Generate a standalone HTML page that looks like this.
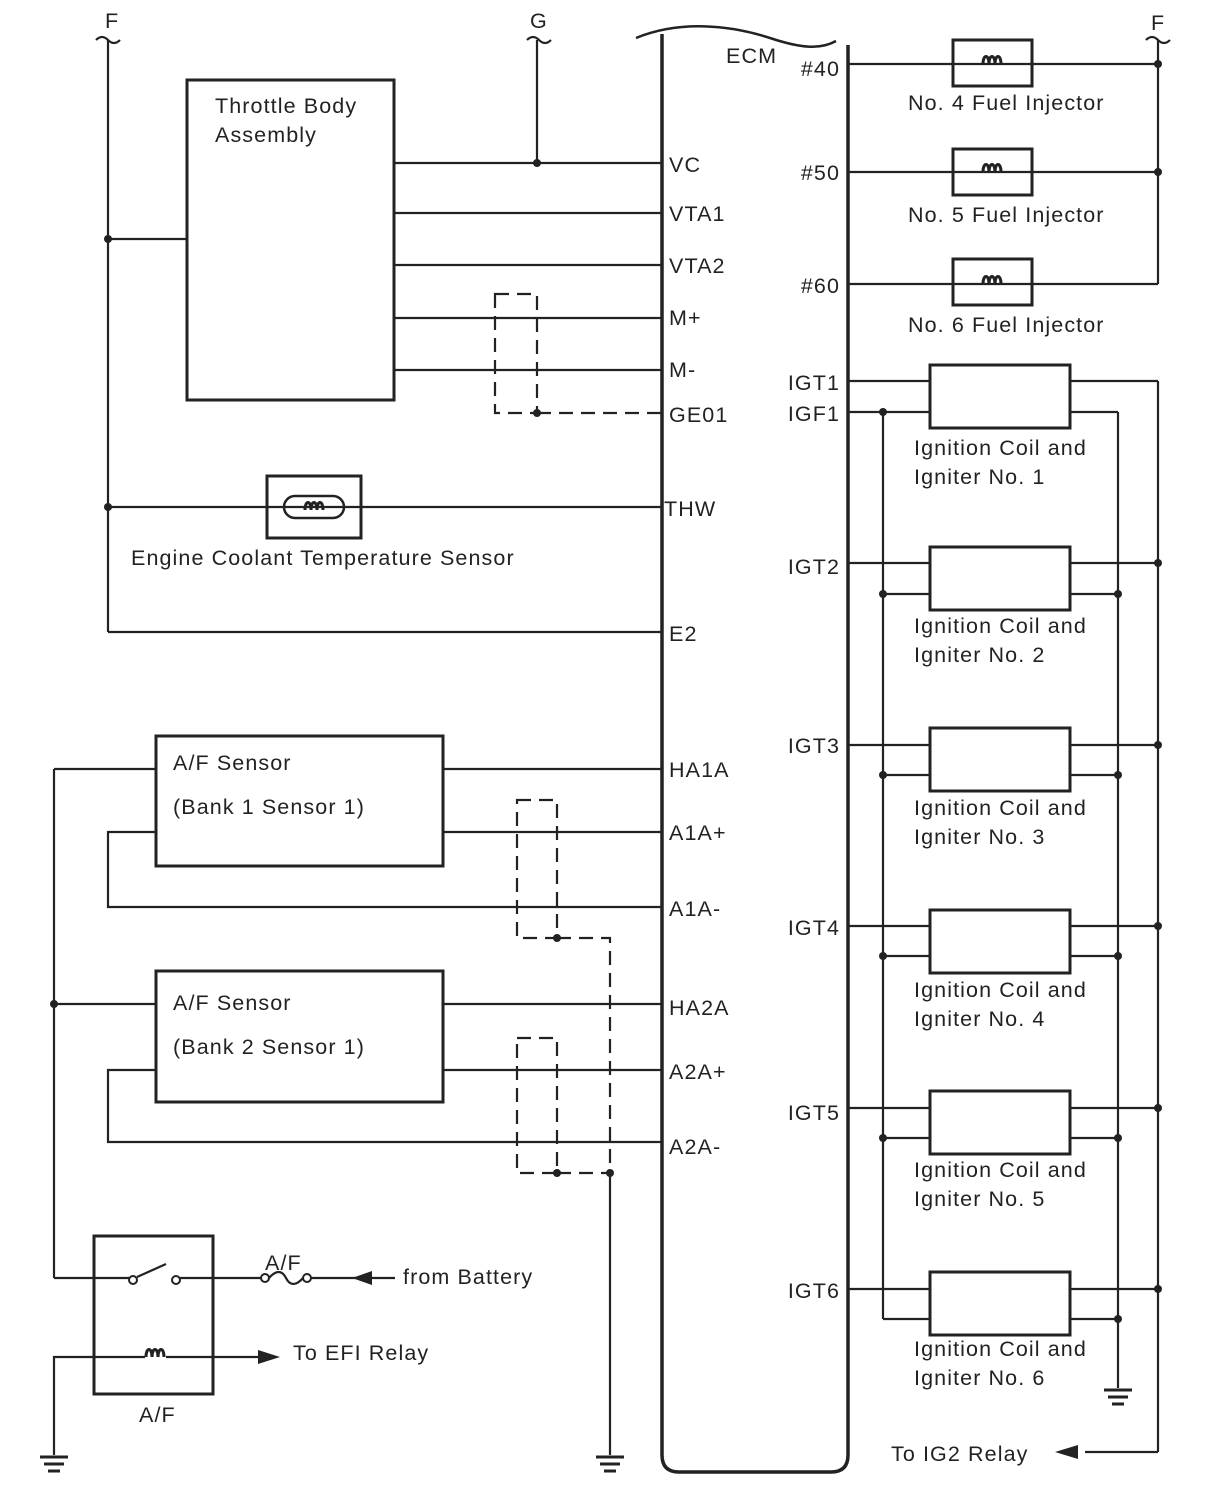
<!DOCTYPE html>
<html><head><meta charset="utf-8"><style>
html,body{margin:0;padding:0;background:#fff;}
svg{display:block;}
text{font-family:"Liberation Sans",Arial,sans-serif;font-size:21.5px;letter-spacing:1.1px;fill:#222;}
</style></head><body>
<svg width="1210" height="1498" viewBox="0 0 1210 1498" xmlns="http://www.w3.org/2000/svg">
<defs>
<g id="gnd"><line x1="-14" y1="0" x2="14" y2="0" stroke="#222" stroke-width="3"/><line x1="-10" y1="7" x2="10" y2="7" stroke="#222" stroke-width="3"/><line x1="-6" y1="14" x2="6" y2="14" stroke="#222" stroke-width="3"/></g>
<g id="coil"><path d="M-10 0 C-10 -10 -4 -10 -4 0 M-4 0 C-4 -10 2 -10 2 0 M2 0 C2 -10 8 -10 8 0" fill="none" stroke="#222" stroke-width="3"/></g>
</defs>
<g stroke="#222" stroke-width="2.2" fill="none">
<path d="M662 34 L662 1455 Q662 1472 679 1472 L831 1472 Q848 1472 848 1455 L848 45" stroke-width="3.5"/>
<path d="M636 38 C680 20 730 25 770 38 C800 48 820 50 836 41" stroke-width="2.5"/>
<path d="M96 40 q6 -6 12 0 q6 6 12 0"/>
<path d="M527 40 q6 -6 12 0 q6 6 12 0"/>
<path d="M1146 40 q6 -6 12 0 q6 6 12 0"/>
<line x1="108" y1="40" x2="108" y2="632"/>
<line x1="108" y1="632" x2="662" y2="632"/>
<rect x="187" y="80" width="207" height="320" stroke-width="3"/>
<line x1="108" y1="239" x2="187" y2="239"/>
<line x1="537" y1="40" x2="537" y2="163"/>
<line x1="394" y1="163" x2="662" y2="163"/>
<line x1="394" y1="213" x2="662" y2="213"/>
<line x1="394" y1="265" x2="662" y2="265"/>
<line x1="394" y1="318" x2="662" y2="318"/>
<line x1="394" y1="370" x2="662" y2="370"/>
<path d="M495 294 L537 294 L537 413 L495 413 Z M537 413 L662 413" stroke-dasharray="14,8"/>
<line x1="108" y1="507" x2="662" y2="507"/>
<rect x="267" y="476" width="94" height="62" fill="#fff" stroke-width="3"/>
<rect x="284" y="496" width="60" height="22" rx="11" stroke-width="2.5"/>
<line x1="267" y1="507" x2="361" y2="507"/>
<rect x="156" y="736" width="287" height="130" stroke-width="3"/>
<rect x="156" y="971" width="287" height="131" stroke-width="3"/>
<line x1="54" y1="769" x2="156" y2="769"/>
<line x1="443" y1="769" x2="662" y2="769"/>
<line x1="54" y1="769" x2="54" y2="1278"/>
<line x1="443" y1="832" x2="662" y2="832"/>
<path d="M156 832 L108 832 L108 907 L662 907"/>
<line x1="54" y1="1004" x2="156" y2="1004"/>
<line x1="443" y1="1004" x2="662" y2="1004"/>
<line x1="443" y1="1070" x2="662" y2="1070"/>
<path d="M156 1070 L108 1070 L108 1142 L662 1142"/>
<path d="M517 800 L557 800 L557 938 L517 938 Z M557 938 L610 938 L610 1173" stroke-dasharray="14,8"/>
<path d="M517 1038 L557 1038 L557 1173 L517 1173 Z M557 1173 L610 1173" stroke-dasharray="14,8"/>
<line x1="610" y1="1173" x2="610" y2="1455"/>
<rect x="94" y="1236" width="119" height="158" stroke-width="3"/>
<line x1="54" y1="1278" x2="130" y2="1278"/>
<line x1="137" y1="1277" x2="166" y2="1264"/>
<line x1="180" y1="1278" x2="261" y2="1278"/>
<path d="M269 1278 C276 1270 282 1270 286 1278 C290 1286 296 1286 303 1278"/>
<line x1="311" y1="1278" x2="395" y2="1278"/>
<path d="M54 1455 L54 1357 L145 1357 M166 1357 L262 1357"/>
<line x1="848" y1="64" x2="1158" y2="64"/>
<line x1="848" y1="172" x2="1158" y2="172"/>
<line x1="848" y1="284" x2="1158" y2="284"/>
<line x1="1158" y1="40" x2="1158" y2="284"/>
<rect x="953" y="40" width="79" height="46" stroke-width="3"/>
<rect x="953" y="149" width="79" height="46" stroke-width="3"/>
<rect x="953" y="259" width="79" height="46" stroke-width="3"/>
<line x1="883" y1="412" x2="883" y2="1319"/>
<line x1="1118" y1="412" x2="1118" y2="1388"/>
<line x1="1158" y1="381" x2="1158" y2="1452"/>
<line x1="1158" y1="1452" x2="1085" y2="1452"/>
</g>
<g stroke="#222" stroke-width="2.2" fill="none">
<line x1="848" y1="381" x2="930" y2="381"/><line x1="1070" y1="381" x2="1158" y2="381"/><line x1="848" y1="412" x2="930" y2="412"/><line x1="1070" y1="412" x2="1118" y2="412"/><rect x="930" y="365" width="140" height="63" stroke-width="3"/>
<line x1="848" y1="563" x2="930" y2="563"/><line x1="1070" y1="563" x2="1158" y2="563"/><line x1="883" y1="594" x2="930" y2="594"/><line x1="1070" y1="594" x2="1118" y2="594"/><rect x="930" y="547" width="140" height="63" stroke-width="3"/>
<line x1="848" y1="745" x2="930" y2="745"/><line x1="1070" y1="745" x2="1158" y2="745"/><line x1="883" y1="775" x2="930" y2="775"/><line x1="1070" y1="775" x2="1118" y2="775"/><rect x="930" y="728" width="140" height="63" stroke-width="3"/>
<line x1="848" y1="926" x2="930" y2="926"/><line x1="1070" y1="926" x2="1158" y2="926"/><line x1="883" y1="956" x2="930" y2="956"/><line x1="1070" y1="956" x2="1118" y2="956"/><rect x="930" y="910" width="140" height="63" stroke-width="3"/>
<line x1="848" y1="1108" x2="930" y2="1108"/><line x1="1070" y1="1108" x2="1158" y2="1108"/><line x1="883" y1="1138" x2="930" y2="1138"/><line x1="1070" y1="1138" x2="1118" y2="1138"/><rect x="930" y="1091" width="140" height="63" stroke-width="3"/>
<line x1="848" y1="1289" x2="930" y2="1289"/><line x1="1070" y1="1289" x2="1158" y2="1289"/><line x1="883" y1="1319" x2="930" y2="1319"/><line x1="1070" y1="1319" x2="1118" y2="1319"/><rect x="930" y="1272" width="140" height="63" stroke-width="3"/>
</g>
<g fill="#fff">
<use href="#coil" x="993" y="64"/><use href="#coil" x="993" y="172"/><use href="#coil" x="993" y="284"/>
<use href="#coil" x="156" y="1357"/>
<use href="#coil" x="315" y="510"/>
</g>
<g fill="#fff" stroke="#222" stroke-width="2">
<circle cx="133" cy="1280" r="4"/><circle cx="176" cy="1280" r="4"/>
<circle cx="265" cy="1278" r="4"/><circle cx="307" cy="1278" r="4"/>
</g>
<g fill="#222">
<polygon points="352,1278 372,1271 372,1285"/>
<polygon points="280,1357 258,1350 258,1364"/>
<polygon points="1055,1452 1078,1445 1078,1459"/>
</g>
<use href="#gnd" x="54" y="1457"/><use href="#gnd" x="610" y="1457"/><use href="#gnd" x="1118" y="1390"/>
<g fill="#222">
<circle cx="537" cy="163" r="4"/><circle cx="108" cy="239" r="4"/><circle cx="537" cy="413" r="4"/><circle cx="108" cy="507" r="4"/>
<circle cx="557" cy="938" r="4"/><circle cx="54" cy="1004" r="4"/><circle cx="557" cy="1173" r="4"/><circle cx="610" cy="1173" r="4"/>
<circle cx="1158" cy="64" r="4"/><circle cx="1158" cy="172" r="4"/>
<circle cx="883" cy="412" r="4"/>
<circle cx="883" cy="594" r="4"/><circle cx="883" cy="775" r="4"/><circle cx="883" cy="956" r="4"/><circle cx="883" cy="1138" r="4"/>
<circle cx="1118" cy="594" r="4"/><circle cx="1118" cy="775" r="4"/><circle cx="1118" cy="956" r="4"/><circle cx="1118" cy="1138" r="4"/><circle cx="1118" cy="1319" r="4"/>
<circle cx="1158" cy="563" r="4"/><circle cx="1158" cy="745" r="4"/><circle cx="1158" cy="926" r="4"/><circle cx="1158" cy="1108" r="4"/><circle cx="1158" cy="1289" r="4"/>
</g>
<text x="105" y="28" font-size="20">F</text>
<text x="530" y="28" font-size="20">G</text>
<text x="1151" y="30" font-size="20">F</text>
<text x="215" y="113">Throttle Body</text>
<text x="215" y="142">Assembly</text>
<text x="726" y="63">ECM</text>
<text x="669" y="172">VC</text>
<text x="669" y="221">VTA1</text>
<text x="669" y="273">VTA2</text>
<text x="669" y="325">M+</text>
<text x="669" y="377">M-</text>
<text x="669" y="422">GE01</text>
<text x="664" y="516">THW</text>
<text x="131" y="565">Engine Coolant Temperature Sensor</text>
<text x="669" y="641">E2</text>
<text x="173" y="770">A/F Sensor</text>
<text x="173" y="814">(Bank 1 Sensor 1)</text>
<text x="669" y="777">HA1A</text>
<text x="669" y="840">A1A+</text>
<text x="669" y="916">A1A-</text>
<text x="173" y="1010">A/F Sensor</text>
<text x="173" y="1054">(Bank 2 Sensor 1)</text>
<text x="669" y="1015">HA2A</text>
<text x="669" y="1079">A2A+</text>
<text x="669" y="1154">A2A-</text>
<text x="265" y="1270" font-size="20">A/F</text>
<text x="403" y="1284">from Battery</text>
<text x="293" y="1360">To EFI Relay</text>
<text x="139" y="1422" font-size="20">A/F</text>
<g text-anchor="end">
<text x="840" y="76">#40</text>
<text x="840" y="180">#50</text>
<text x="840" y="293">#60</text>
<text x="840" y="390">IGT1</text>
<text x="840" y="421">IGF1</text>
<text x="840" y="574">IGT2</text>
<text x="840" y="753">IGT3</text>
<text x="840" y="935">IGT4</text>
<text x="840" y="1120">IGT5</text>
<text x="840" y="1298">IGT6</text>
</g>
<text x="908" y="110">No. 4 Fuel Injector</text>
<text x="908" y="222">No. 5 Fuel Injector</text>
<text x="908" y="332">No. 6 Fuel Injector</text>
<text x="914" y="455">Ignition Coil and</text><text x="914" y="484">Igniter No. 1</text>
<text x="914" y="633">Ignition Coil and</text><text x="914" y="662">Igniter No. 2</text>
<text x="914" y="815">Ignition Coil and</text><text x="914" y="844">Igniter No. 3</text>
<text x="914" y="997">Ignition Coil and</text><text x="914" y="1026">Igniter No. 4</text>
<text x="914" y="1177">Ignition Coil and</text><text x="914" y="1206">Igniter No. 5</text>
<text x="914" y="1356">Ignition Coil and</text><text x="914" y="1385">Igniter No. 6</text>
<text x="891" y="1461">To IG2 Relay</text>
</svg>
</body></html>
